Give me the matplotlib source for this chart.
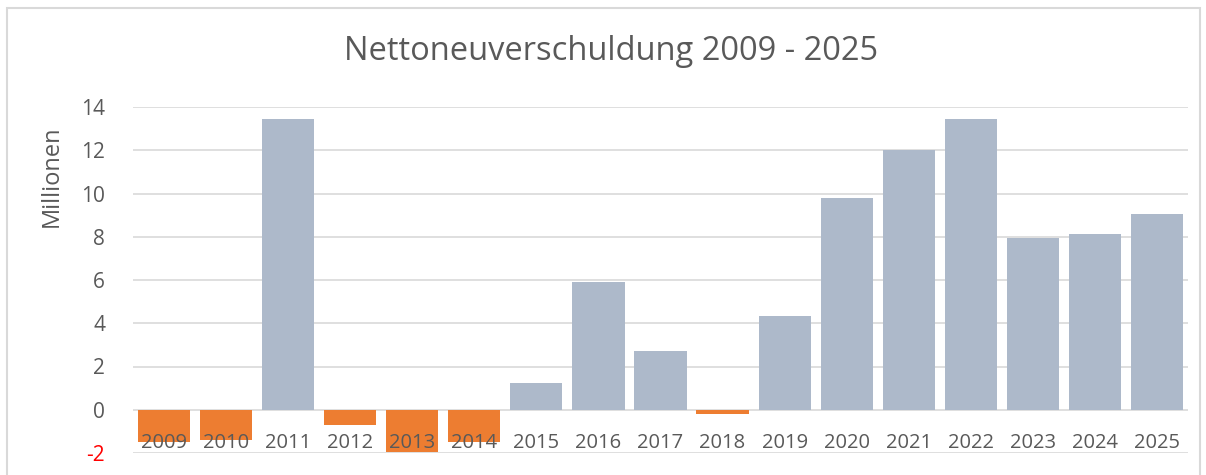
import matplotlib.pyplot as plt
from matplotlib.patches import Rectangle

plt.rcParams["font.family"] = ["Open Sans", "DejaVu Sans"]
plt.rcParams["axes.unicode_minus"] = False

years = [str(y) for y in range(2009, 2026)]
values = [-1.51, -1.42, 13.45, -0.71, -1.97, -1.48, 1.26, 5.89, 2.71,
          -0.18, 4.32, 9.77, 12.03, 13.46, 7.93, 8.15, 9.03]
yticks = [-2, 0, 2, 4, 6, 8, 10, 12, 14]

fig = plt.figure(figsize=(12.06, 4.75), dpi=100)
ax = fig.add_axes([133 / 1206, 1 - 453 / 475, 1055 / 1206, 346 / 475])

colors = ["#ED7D31" if v < 0 else "#ADB9CA" for v in values]
x = list(range(len(years)))
ax.bar(x, values, width=0.84, color=colors, zorder=2)

ax.set_xlim(-0.5, len(years) - 0.5)
ax.set_ylim(-2, 14)
ax.set_yticks(yticks)
ax.yaxis.grid(True, color="#D9D9D9", linewidth=1.2, zorder=0)
ax.set_axisbelow(True)
ax.tick_params(axis="y", length=0, labelsize=15, labelcolor="#595959", pad=20)
for lbl in ax.get_yticklabels():
    if lbl.get_text().startswith("-") or lbl.get_text().startswith("\u2212"):
        lbl.set_color("red")
ax.set_xticks([])
for s in ax.spines.values():
    s.set_visible(False)

# year labels sit low, drawn on top of bars
for xi, yr in zip(x, years):
    ax.text(xi, -1.55, yr, ha="center", va="center", fontsize=14.5,
            color="#595959", zorder=4)

ax.set_ylabel("Millionen", fontsize=17, color="#595959")
ax.yaxis.set_label_coords(-0.066, 0.80)
fig.suptitle("Nettoneuverschuldung 2009 - 2025", fontsize=23.5, color="#595959",
             x=611 / 1206, y=1 - 52 / 475, va="center")

# chart frame
fig.patches.append(Rectangle((7 / 1206, -0.1), 1193 / 1206, 1.1 - 8 / 475,
                             transform=fig.transFigure, fill=False,
                             edgecolor="#D9D9D9", linewidth=1.5))

fig.savefig("out.png", dpi=100, facecolor="white")
